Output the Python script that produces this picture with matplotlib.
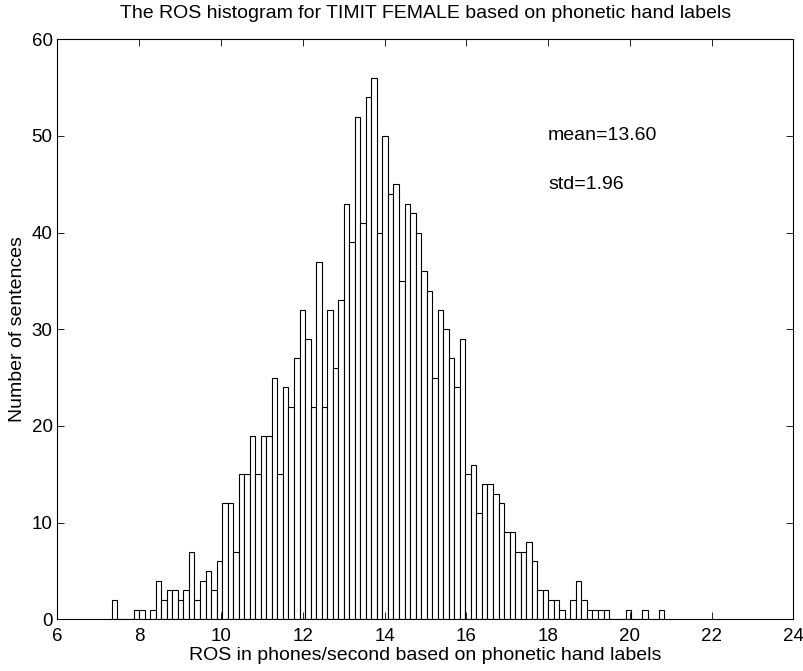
import numpy as np
import matplotlib
matplotlib.use("Agg")
import matplotlib.pyplot as plt

plt.rcParams['font.family'] = ['Liberation Sans', 'DejaVu Sans']

# 100 bins between the slowest and fastest sentence
ros_min = 7.323
ros_max = 20.842
counts = [2, 0, 0, 0, 1, 1, 0, 1, 4, 2,
          3, 3, 2, 3, 7, 2, 4, 5, 3, 6,
          12, 12, 7, 15, 15, 19, 15, 19, 19, 25,
          15, 24, 22, 27, 32, 29, 22, 37, 22, 32,
          26, 33, 43, 39, 52, 41, 54, 56, 40, 50,
          44, 45, 35, 43, 42, 40, 36, 34, 25, 32,
          30, 27, 24, 29, 15, 16, 11, 14, 14, 13,
          12, 9, 9, 7, 7, 8, 6, 3, 3, 2,
          2, 1, 0, 2, 4, 2, 1, 1, 1, 1,
          0, 0, 0, 1, 0, 0, 1, 0, 0, 1]
mean_txt = 'mean=13.60'
std_txt = 'std=1.96'

edges = np.linspace(ros_min, ros_max, len(counts) + 1)
centros = (edges[:-1] + edges[1:]) / 2
ancho = edges[1] - edges[0]

fig = plt.figure(figsize=(8.04, 6.71), dpi=100)
ax = fig.add_axes([0.0715, 0.077, 0.9154, 0.8644])

ax.bar(centros, counts, width=ancho, facecolor='white', edgecolor='black',
       linewidth=0.8)

ax.set_xlim(6, 24)
ax.set_ylim(0, 60)
ax.set_xticks(np.arange(6, 25, 2))
ax.set_yticks(np.arange(0, 61, 10))
ax.tick_params(direction='in', length=5, width=0.6, top=True, right=True,
               labelsize=13.5)
ax.tick_params(axis='x', pad=6)
for s in ax.spines.values():
    s.set_linewidth(0.8)

ax.text(18, 50, mean_txt, fontsize=14, va='center')
ax.text(18, 45, std_txt, fontsize=14, va='center')

ax.set_title('The ROS histogram for TIMIT FEMALE based on phonetic hand labels',
             fontsize=14, pad=15)
ax.set_xlabel('ROS in phones/second based on phonetic hand labels', fontsize=14,
              labelpad=2)
ax.set_ylabel('Number of sentences', fontsize=14, labelpad=4)

plt.savefig('out.png', dpi=100)
